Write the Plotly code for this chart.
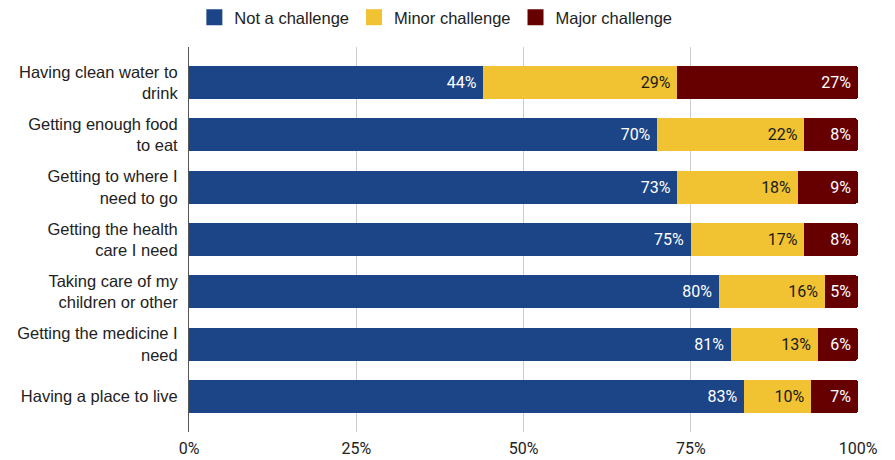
import plotly.graph_objects as go

# Survey items, top to bottom
categories = [
    "Having clean water to<br>drink",
    "Getting enough food<br>to eat",
    "Getting to where I<br>need to go",
    "Getting the health<br>care I need",
    "Taking care of my<br>children or other",
    "Getting the medicine I<br>need",
    "Having a place to live",
]

# Share of respondents (%) per response level
not_a_challenge = [44, 70, 73, 75, 80, 81, 83]
minor_challenge = [29, 22, 18, 17, 16, 13, 10]
major_challenge = [27, 8, 9, 8, 5, 6, 7]

x_tick_vals = [0, 25, 50, 75, 100]
x_tick_text = ["0%", "25%", "50%", "75%", "100%"]

series = [
    ("Not a challenge", not_a_challenge, "#1c4587", "#ffffff"),
    ("Minor challenge", minor_challenge, "#f1c232", "#1a1a1a"),
    ("Major challenge", major_challenge, "#660000", "#ffffff"),
]

fig = go.Figure()
for name, vals, color, text_color in series:
    fig.add_trace(go.Bar(
        name=name,
        y=categories,
        x=vals,
        orientation="h",
        marker=dict(color=color, line=dict(width=0)),
        text=[f"{v}%\u00a0" for v in vals],
        textposition="inside",
        insidetextanchor="end",
        textangle=0,
        textfont=dict(family="Roboto", size=16, color=text_color),
        hoverinfo="skip",
        showlegend=False,
    ))

# Square legend keys
for name, _, color, _ in series:
    fig.add_trace(go.Scatter(
        name=name,
        x=[None],
        y=[None],
        mode="markers",
        marker=dict(symbol="square", size=16, color=color),
        hoverinfo="skip",
        showlegend=True,
    ))

fig.update_layout(
    width=895,
    height=460,
    barmode="stack",
    barnorm="percent",
    bargap=0.368,
    barcornerradius=3,
    plot_bgcolor="#ffffff",
    paper_bgcolor="#ffffff",
    margin=dict(l=189, r=37, t=47, b=28, pad=0, autoexpand=False),
    legend=dict(
        orientation="h",
        x=0.369,
        xanchor="center",
        y=1.0,
        yref="container",
        yanchor="top",
        font=dict(family="Liberation Sans", size=16.5, color="#222222"),
        traceorder="normal",
        itemclick=False,
        itemsizing="trace",
    ),
    xaxis=dict(
        range=[0, 100],
        tickvals=x_tick_vals,
        ticktext=x_tick_text,
        showgrid=True,
        gridcolor="#cccccc",
        gridwidth=1,
        zeroline=False,
        showline=False,
        ticks="",
        ticklabelstandoff=5,
        automargin=False,
        tickfont=dict(family="Roboto", size=16, color="#222222"),
        fixedrange=True,
    ),
    yaxis=dict(
        categoryorder="array",
        categoryarray=categories,
        range=[6.68, -0.68],
        showgrid=False,
        zeroline=False,
        showline=True,
        linecolor="#555555",
        linewidth=1,
        ticks="",
        ticklabelstandoff=7,
        automargin=False,
        tickfont=dict(family="Liberation Sans", size=16.5, color="#222222"),
        fixedrange=True,
    ),
)

fig.write_html("out.html")
